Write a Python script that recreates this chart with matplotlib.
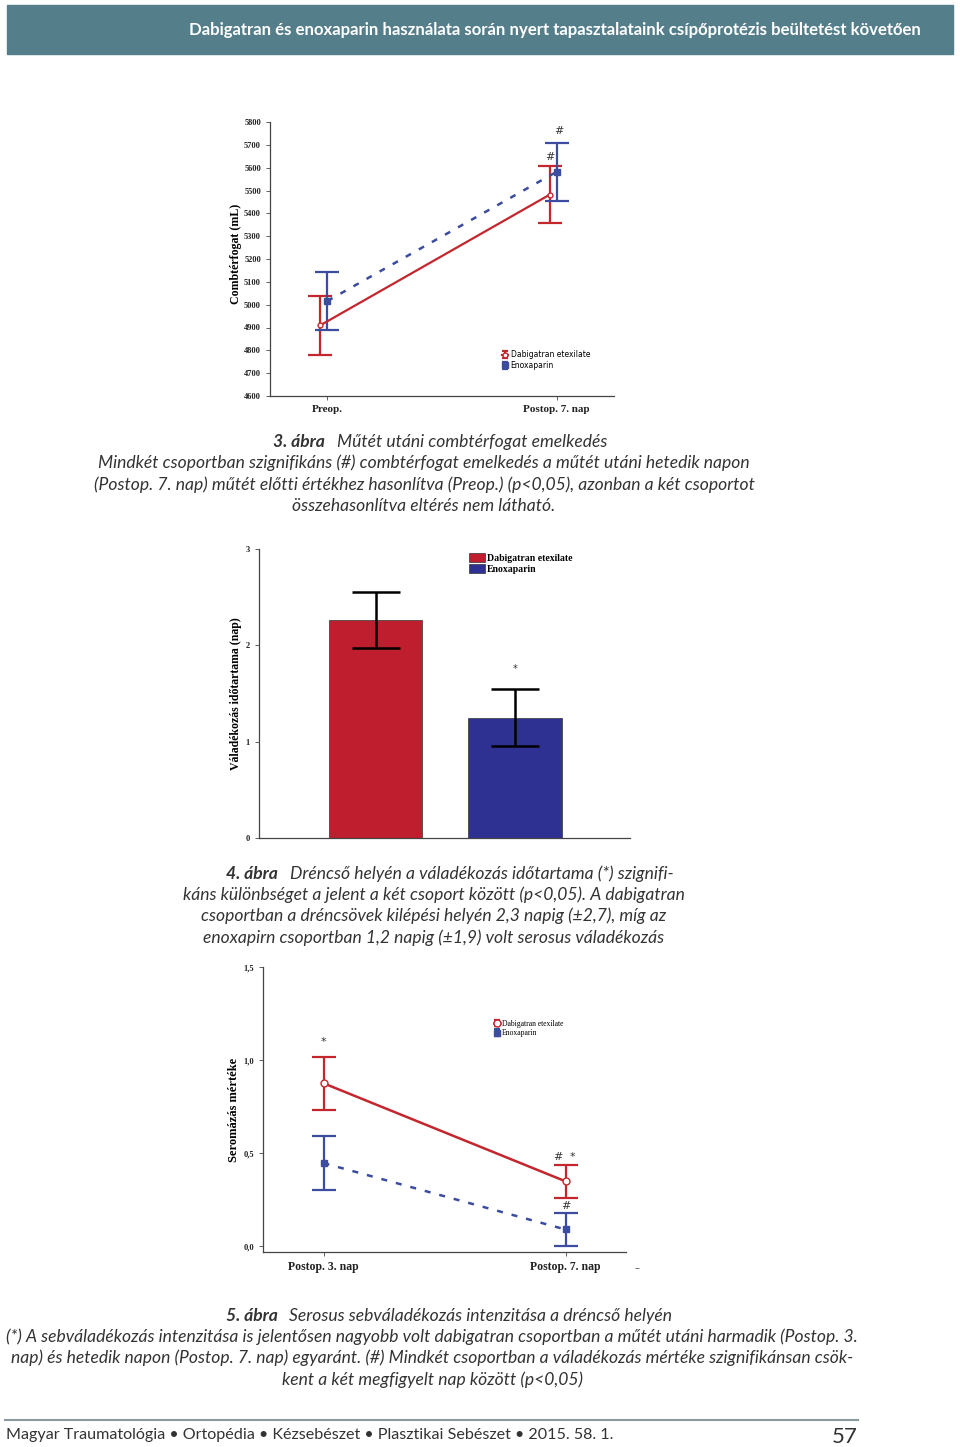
import numpy as np
import matplotlib.pyplot as plt
from matplotlib.patches import Rectangle
from matplotlib.lines import Line2D
from matplotlib.container import ErrorbarContainer
from matplotlib.legend_handler import HandlerErrorbar

# 3. ábra - combtérfogat (mL)
vol_labels = ['Preop.', 'Postop. 7. nap']
vol_dabi = [4910, 5482]
vol_dabi_err = [129, 125]
vol_enox = [5016, 5582]
vol_enox_err = [128, 127]
vol_yticks = list(range(4600, 5801, 100))

# 4. ábra - váladékozás időtartama (nap)
dur_groups = ['Dabigatran etexilate', 'Enoxaparin']
dur_mean = [2.26, 1.25]
dur_err = [0.29, 0.30]
dur_yticks = [0, 1, 2, 3]

# 5. ábra - seromázás mértéke
sero_labels = ['Postop. 3. nap', 'Postop. 7. nap']
sero_dabi = [0.875, 0.348]
sero_dabi_err = [0.141, 0.088]
sero_enox = [0.446, 0.089]
sero_enox_err = [0.144, 0.087]
sero_yticks = [0.0, 0.5, 1.0, 1.5]
sero_yticklabels = ['0,0', '0,5', '1,0', '1,5']

RED = '#c4262e'
BLUE = '#3c4c9e'
RED_BAR = '#be1e2d'
BLUE_BAR = '#2e3192'
SERIF = 'Liberation Serif'
TXT = '#333333'

W, H = 960, 1447
fig = plt.figure(figsize=(W / 100, H / 100), dpi=100)


def axes_px(x0, y0, x1, y1):
    return fig.add_axes([x0 / W, 1 - y1 / H, (x1 - x0) / W, (y1 - y0) / H])


def style_axes(ax, tick_size):
    for s in ['top', 'right']:
        ax.spines[s].set_visible(False)
    for s in ['left', 'bottom']:
        ax.spines[s].set_color('#444444')
        ax.spines[s].set_linewidth(0.9)
    ax.tick_params(axis='both', length=3, width=0.6, color='#444444')
    ax.tick_params(axis='y', labelsize=tick_size)
    for t in ax.get_yticklabels() + ax.get_xticklabels():
        t.set_fontfamily(SERIF)
        t.set_fontweight('bold')
        t.set_color('#222222')


# kis hibasáv-ikon a jelmagyarázatban
def small_caps(leg_artist, orig):
    leg_artist.update_from(orig)
    if isinstance(orig, Line2D) and orig.get_marker() == '_':
        leg_artist.set_markersize(5)


err_map = {ErrorbarContainer: HandlerErrorbar(yerr_size=0.45, update_func=small_caps)}

# ---------- fejléc ----------
fig.patches.append(Rectangle((7 / W, 1 - 54 / H), 946 / W, 49 / H,
                             transform=fig.transFigure, color='#537e8a'))
fig.text(921 / W, 1 - 30 / H,
         'Dabigatran és enoxaparin használata során nyert tapasztalataink csípőprotézis beültetést követően',
         ha='right', va='center', color='white', fontsize=12.05,
         fontfamily='Lato', fontweight='bold')

# ---------- 3. ábra ----------
ax1 = axes_px(270, 122, 614, 396)
x = np.arange(len(vol_labels))
ax1.errorbar(x - 0.03, vol_dabi, yerr=vol_dabi_err, color=RED, lw=1.6,
             marker='o', ms=3.5, mfc='white', mec=RED, capsize=8.5,
             capthick=1.6, elinewidth=1.6, label='Dabigatran etexilate')
ax1.errorbar(x, vol_enox, yerr=vol_enox_err, color=BLUE, lw=1.8,
             ls=(0, (2.4, 3.6)), marker='s', ms=4, capsize=8.5,
             capthick=1.6, elinewidth=1.6, label='Enoxaparin')
ax1.text(0.97, 5625, '#', ha='center', va='bottom', fontsize=8, color=TXT)
ax1.text(1.01, 5740, '#', ha='center', va='bottom', fontsize=8, color=TXT)
ax1.set_xlim(-0.25, 1.25)
ax1.set_ylim(4600, 5800)
ax1.set_yticks(vol_yticks)
ax1.set_xticks(x)
ax1.set_xticklabels(vol_labels, fontsize=8)
ax1.set_ylabel('Combtérfogat (mL)', fontsize=8.6, fontfamily=SERIF, fontweight='bold')
ax1.yaxis.set_label_coords(-0.08, 0.52)
style_axes(ax1, 6)
ax1.legend(loc='lower left', bbox_to_anchor=(0.675, 0.095), frameon=False,
           prop={'size': 5.5}, handlelength=0.8, handletextpad=0.3,
           labelspacing=0.2, borderpad=0, borderaxespad=0, handler_map=err_map)

# ---------- 4. ábra ----------
ax2 = axes_px(259, 549, 630, 838)
xb = np.arange(len(dur_groups))
bar_cols = [RED_BAR, BLUE_BAR]
for i in range(len(dur_groups)):
    ax2.bar(xb[i], dur_mean[i], width=0.67, color=bar_cols[i], edgecolor='#333333',
            lw=0.5, yerr=dur_err[i], capsize=17.5, label=dur_groups[i],
            error_kw=dict(ecolor='black', elinewidth=1.8, capthick=1.8))
ax2.text(1, 1.70, '*', ha='center', va='bottom', fontsize=7, color=TXT)
ax2.set_xlim(-0.835, 1.824)
ax2.set_ylim(0, 3)
ax2.set_yticks(dur_yticks)
ax2.set_xticks([])
ax2.set_ylabel('Váladékozás időtartama (nap)', fontsize=8.5, fontfamily=SERIF,
               fontweight='bold')
ax2.yaxis.set_label_coords(-0.045, 0.5)
style_axes(ax2, 6)
ax2.legend(loc='upper left', bbox_to_anchor=(0.565, 0.985), frameon=False,
           prop={'family': SERIF, 'weight': 'bold', 'size': 7},
           handlelength=1.7, handleheight=1.0, handletextpad=0.15,
           labelspacing=0.1, borderpad=0, borderaxespad=0)

# ---------- 5. ábra ----------
ax3 = axes_px(263, 967, 626, 1252)
x3 = np.arange(len(sero_labels))
ax3.errorbar(x3, sero_dabi, yerr=sero_dabi_err, color=RED, lw=1.8,
             marker='o', ms=5, mfc='white', mec=RED, capsize=8.5,
             capthick=1.6, elinewidth=1.6, label='Dabigatran etexilate')
ax3.errorbar(x3, sero_enox, yerr=sero_enox_err, color=BLUE, lw=1.8,
             ls=(0, (2.4, 3.6)), marker='s', ms=5, capsize=8.5,
             capthick=1.6, elinewidth=1.6, label='Enoxaparin')
ax3.text(0, 1.07, '*', ha='center', va='bottom', fontsize=8, color=TXT)
ax3.text(0.97, 0.45, '#', ha='center', va='bottom', fontsize=8, color=TXT)
ax3.text(1.03, 0.45, '*', ha='center', va='bottom', fontsize=8, color=TXT)
ax3.text(1.0, 0.19, '#', ha='center', va='bottom', fontsize=8, color=TXT)
ax3.set_xlim(-0.25, 1.25)
ax3.set_ylim(-0.032, 1.5)
ax3.set_yticks(sero_yticks)
ax3.set_yticklabels(sero_yticklabels)
ax3.set_xticks(x3)
ax3.set_xticklabels(sero_labels, fontsize=8.5)
ax3.tick_params(axis='x', pad=3.5)
ax3.set_ylabel('Seromázás mértéke', fontsize=9, fontfamily=SERIF, fontweight='bold')
ax3.yaxis.set_label_coords(-0.063, 0.5)
style_axes(ax3, 6)
ax3.legend(loc='upper left', bbox_to_anchor=(0.635, 0.815), frameon=False,
           prop={'family': SERIF, 'size': 5.5}, handlelength=0.8,
           handletextpad=0.3, labelspacing=0.2, borderpad=0, borderaxespad=0,
           handler_map=err_map)
fig.text(637 / W, 1 - 1268 / H, '–', ha='center', va='center', fontsize=7, color='#555555')

# ---------- ábraszövegek ----------
renderer = fig.canvas.get_renderer()
CAP = 12.6


def caption(ypx, xc, bold, rest):
    kw = dict(fontsize=CAP, fontfamily='Lato', fontstyle='italic', color=TXT, va='center')
    if bold:
        tb = fig.text(0, 1 - ypx / H, bold, fontweight='bold', **kw)
        tr = fig.text(0, 1 - ypx / H, rest, **kw)
        wb = tb.get_window_extent(renderer).width
        wr = tr.get_window_extent(renderer).width
        gap = 12
        x0 = xc - (wb + gap + wr) / 2
        tb.set_x(x0 / W)
        tr.set_x((x0 + wb + gap) / W)
    else:
        fig.text(xc / W, 1 - ypx / H, rest, ha='center', **kw)


caption(442, 440, '3. ábra', 'Műtét utáni combtérfogat emelkedés')
caption(463, 424, None, 'Mindkét csoportban szignifikáns (#) combtérfogat emelkedés a műtét utáni hetedik napon')
caption(485, 424, None, '(Postop. 7. nap) műtét előtti értékhez hasonlítva (Preop.) (p<0,05), azonban a két csoportot')
caption(506, 424, None, 'összehasonlítva eltérés nem látható.')

caption(874, 450, '4. ábra', 'Dréncső helyén a váladékozás időtartama (*) szignifi-')
caption(895, 434, None, 'káns különbséget a jelent a két csoport között (p<0,05). A dabigatran')
caption(916, 434, None, 'csoportban a dréncsövek kilépési helyén 2,3 napig (±2,7), míg az')
caption(938, 434, None, 'enoxapirn csoportban 1,2 napig (±1,9) volt serosus váladékozás')

caption(1316, 449, '5. ábra', 'Serosus sebváladékozás intenzitása a dréncső helyén')
caption(1337, 432, None, '(*) A sebváladékozás intenzitása is jelentősen nagyobb volt dabigatran csoportban a műtét utáni harmadik (Postop. 3.')
caption(1358, 432, None, 'nap) és hetedik napon (Postop. 7. nap) egyaránt. (#) Mindkét csoportban a váladékozás mértéke szignifikánsan csök-')
caption(1380, 432, None, 'kent a két megfigyelt nap között (p<0,05)')

# ---------- lábléc ----------
fig.add_artist(plt.Line2D([5 / W, 858 / W], [1 - 1420 / H, 1 - 1420 / H],
                          transform=fig.transFigure, color='#8a9a9e', lw=1.5))
fig.text(6 / W, 1 - 1435 / H,
         'Magyar Traumatológia • Ortopédia • Kézsebészet • Plasztikai Sebészet • 2015. 58. 1.',
         ha='left', va='center', fontsize=11.6, fontfamily='Lato', color=TXT)
fig.text(858 / W, 1 - 1437 / H, '57', ha='right', va='center', fontsize=16,
         fontfamily='Lato', color=TXT)

fig.savefig('out.png', dpi=100, facecolor='white')
